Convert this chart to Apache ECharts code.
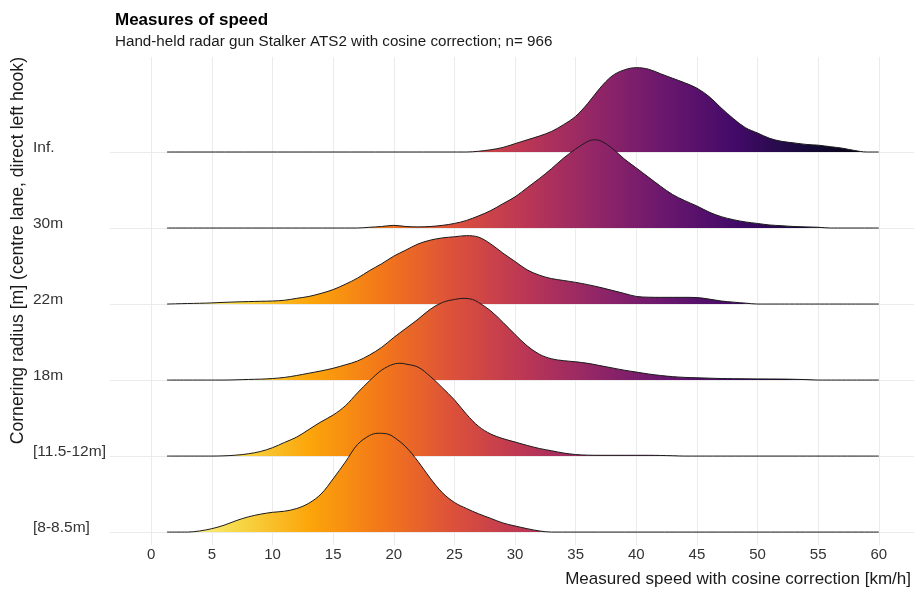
<!DOCTYPE html>
<html>
<head>
<meta charset="utf-8">
<script src="https://cdn.jsdelivr.net/npm/echarts@6/dist/echarts.min.js"></script>
<style>
html,body{margin:0;padding:0;background:#fff;}
#chart{width:916px;height:589px;}
</style>
</head>
<body>
<div id="chart"></div>
<script>
// Ridge categories, bottom to top
const categories = ['[8-8.5m]', '[11.5-12m]', '18m', '22m', '30m', 'Inf.'];
// x tick labels
const xTicks = [0, 5, 10, 15, 20, 25, 30, 35, 40, 45, 50, 55, 60];
// full data range of speeds (km/h) shared by all ridges
const speedRange = [1.3, 60];

// density heights (in units of ridge spacing) read at speed values [km/h, height]
const ridge8 = [[3,0],[4,0.015],[5,0.045],[6,0.09],[7,0.15],[8,0.2],[9,0.235],[10,0.26],[11,0.275],[12,0.31],[13,0.38],[14,0.5],[15,0.7],[16,0.92],[17,1.15],[18,1.27],[18.7,1.30],[19.5,1.29],[20,1.25],[21,1.12],[22,0.93],[23,0.71],[24,0.52],[25,0.39],[26,0.31],[27,0.24],[28,0.18],[29,0.12],[30,0.08],[31,0.045],[32,0.015],[33,0]];
const ridge11 = [[5,0],[6,0.003],[7,0.012],[8,0.03],[9,0.06],[10,0.11],[11,0.18],[12,0.25],[13,0.35],[14,0.45],[15,0.54],[16,0.66],[17,0.83],[18,0.99],[19,1.13],[20,1.21],[20.6,1.22],[21,1.21],[22,1.17],[23,1.05],[24,0.9],[25,0.74],[26,0.55],[27,0.39],[28,0.29],[29,0.23],[30,0.185],[31,0.14],[32,0.1],[33,0.07],[34,0.04],[35,0.02],[36,0.012],[37,0.01],[39,0.01],[41,0.01],[42,0.008],[43,0.004],[44,0]];
const ridge18 = [[6,0],[7,0.003],[8,0.008],[9,0.012],[10,0.02],[11,0.035],[12,0.06],[13,0.09],[14,0.12],[15,0.155],[16,0.2],[17,0.25],[18,0.33],[19,0.43],[20,0.56],[21,0.68],[22,0.8],[23,0.93],[24,1.02],[25,1.06],[25.8,1.075],[26.5,1.06],[27,1.02],[28,0.91],[29,0.76],[30,0.6],[31,0.45],[32,0.34],[33,0.28],[34,0.255],[35,0.24],[36,0.22],[37,0.19],[38,0.16],[39,0.13],[40,0.105],[41,0.08],[42,0.06],[43,0.045],[44,0.035],[45,0.03],[46,0.025],[47,0.02],[48,0.018],[50,0.015],[52,0.013],[53,0.01],[54,0.006],[55,0]];
const ridge22 = [[2,0.003],[3,0.007],[4,0.01],[5,0.015],[6,0.022],[7,0.028],[8,0.032],[9,0.036],[10,0.04],[11,0.05],[12,0.075],[13,0.1],[14,0.14],[15,0.19],[16,0.26],[17,0.34],[18,0.44],[19,0.53],[20,0.63],[21,0.71],[22,0.79],[23,0.84],[24,0.87],[25,0.885],[26,0.9],[27,0.88],[28,0.79],[29,0.67],[30,0.56],[31,0.45],[32,0.38],[33,0.335],[34,0.31],[35,0.285],[36,0.255],[37,0.22],[38,0.18],[39,0.14],[40,0.1],[41,0.09],[42,0.088],[44,0.088],[45,0.085],[46,0.065],[47,0.04],[48,0.025],[49,0.012],[50,0]];
const ridge30 = [[17,0],[18,0.01],[19,0.02],[20,0.035],[21,0.02],[22,0.015],[23,0.02],[24,0.035],[25,0.06],[26,0.1],[27,0.16],[28,0.23],[29,0.32],[30,0.41],[31,0.53],[32,0.65],[33,0.78],[34,0.92],[35,1.04],[36,1.14],[36.5,1.16],[37,1.15],[38,1.05],[39,0.91],[40,0.79],[41,0.67],[42,0.55],[43,0.44],[44,0.36],[45,0.29],[46,0.21],[47,0.15],[48,0.11],[49,0.08],[50,0.06],[51,0.04],[52,0.03],[53,0.02],[54,0.015],[55,0.01],[56,0]];
const ridgeInf = [[26,0],[27,0.01],[28,0.03],[29,0.06],[30,0.11],[31,0.16],[32,0.21],[33,0.27],[34,0.36],[35,0.47],[36,0.64],[37,0.84],[38,1.0],[39,1.08],[40,1.11],[41,1.09],[42,1.03],[43,0.97],[44,0.91],[45,0.84],[46,0.73],[47,0.58],[48,0.44],[49,0.32],[50,0.25],[51,0.18],[52,0.14],[53,0.12],[54,0.1],[55,0.09],[56,0.07],[57,0.05],[58,0.02],[59,0]];

const ridges = [ridge8, ridge11, ridge18, ridge22, ridge30, ridgeInf];

// inferno palette (reversed: light for slow, dark for fast)
const inferno = ['#000004','#160b39','#420a68','#6a176e','#932667','#bc3754','#dd513a','#f37819','#fca50a','#f6d746','#fcffa4'];

const FONT = '"Liberation Sans", Arial, Helvetica, sans-serif';

function buildData(points, base) {
  const out = [[speedRange[0], base]];
  points.forEach(p => {
    if (p[0] > speedRange[0] && p[0] < speedRange[1]) out.push([p[0], base + p[1]]);
  });
  out.push([speedRange[1], base]);
  return out;
}

const series = [];
for (let i = ridges.length - 1; i >= 0; i--) {
  const s = {
    type: 'line',
    name: categories[i],
    data: buildData(ridges[i], i),
    smooth: 0.35,
    showSymbol: false,
    symbol: 'none',
    silent: true,
    z: 2,
    lineStyle: { color: '#1a1a1a', width: 1 },
    areaStyle: { origin: i, opacity: 1 }
  };
  if (i === ridges.length - 1) {
    s.markLine = {
      silent: true,
      symbol: 'none',
      z: 1,
      animation: false,
      label: { show: false },
      lineStyle: { color: '#ebebeb', width: 1, type: 'solid' },
      data: xTicks.map(v => ({ xAxis: v })).concat(categories.map((c, k) => ({ yAxis: k })))
    };
  }
  series.push(s);
}

const chart = echarts.init(document.getElementById('chart'), null, { renderer: 'canvas' });
chart.setOption({
  animation: false,
  backgroundColor: '#ffffff',
  title: [
    {
      text: 'Measures of speed',
      subtext: 'Hand-held radar gun Stalker ATS2 with cosine correction; n= 966',
      left: 110, top: 7, itemGap: 5,
      textStyle: { fontFamily: FONT, fontSize: 17, fontWeight: 'bold', color: '#000' },
      subtextStyle: { fontFamily: FONT, fontSize: 15.2, color: '#1a1a1a' }
    },
    {
      text: 'Measured speed with cosine correction [km/h]',
      right: 0, top: 566,
      textStyle: { fontFamily: FONT, fontSize: 17, fontWeight: 'normal', color: '#1a1a1a' }
    }
  ],
  graphic: [{
    type: 'text',
    x: 18, y: 57,
    rotation: Math.PI / 2,
    style: {
      text: 'Cornering radius [m] (centre lane, direct left hook)',
      font: '17.6px ' + FONT,
      fill: '#1a1a1a',
      align: 'right',
      verticalAlign: 'middle'
    }
  }],
  grid: { left: 110, right: 2, top: 57, bottom: 44, containLabel: false },
  visualMap: {
    show: false,
    type: 'continuous',
    dimension: 0,
    min: speedRange[0],
    max: speedRange[1],
    inRange: { color: inferno.slice().reverse() }
  },
  xAxis: {
    type: 'value',
    min: -3.4, max: 62.9,
    axisLine: { show: false },
    axisTick: { show: false },
    splitLine: { show: false },
    axisLabel: {
      customValues: xTicks,
      margin: 2,
      fontFamily: FONT, fontSize: 15, color: '#333'
    }
  },
  yAxis: {
    type: 'value',
    min: -0.17, max: 6.25,
    axisLine: { show: false },
    axisTick: { show: false },
    splitLine: { show: false },
    axisLabel: {
      customValues: categories.map((c, k) => k + 0.055),
      formatter: v => categories[Math.round(v)] || '',
      align: 'left',
      margin: 77,
      fontFamily: FONT, fontSize: 15.5, color: '#333'
    }
  },
  series: series
});
</script>
</body>
</html>
